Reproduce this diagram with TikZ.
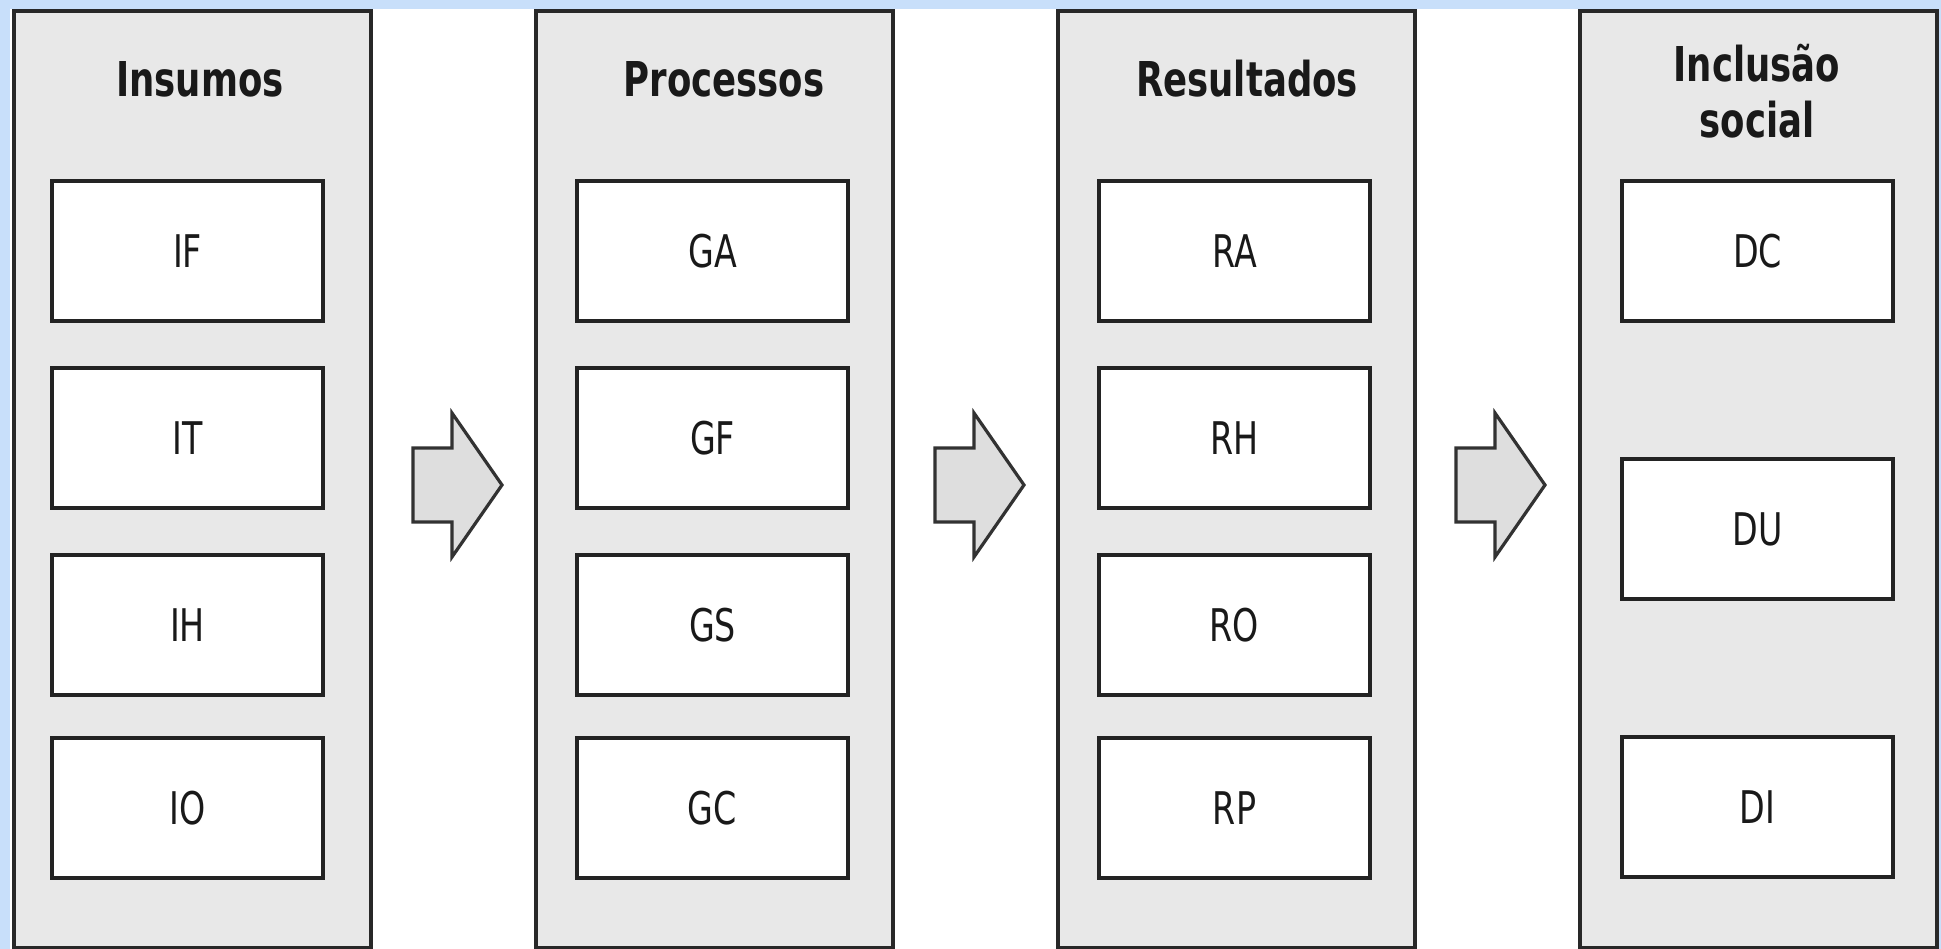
\documentclass[tikz,border=0pt]{standalone}
\usepackage{fontspec}
\newfontfamily\dvs[FakeStretch=0.74]{DejaVu Sans}
\definecolor{bgblue}{RGB}{200,223,250}
\definecolor{colfill}{RGB}{232,232,232}
\definecolor{colline}{RGB}{40,40,40}
\definecolor{boxline}{RGB}{35,35,35}
\definecolor{arrfill}{RGB}{222,222,222}
\definecolor{arrline}{RGB}{50,50,50}
\definecolor{txt}{RGB}{25,25,25}
\begin{document}
\begin{tikzpicture}[x=1pt,y=-1pt,
  col/.style={draw=colline,line width=3.8pt,fill=colfill,minimum width=357pt,minimum height=937pt,inner sep=0pt,anchor=north west},
  box/.style={draw=boxline,line width=3.8pt,fill=white,minimum width=271pt,minimum height=140pt,inner sep=0pt,text=txt,font=\dvs\fontsize{45}{50}\selectfont},
  ttl/.style={anchor=base,inner sep=0pt,text=txt,font=\dvs\bfseries\fontsize{48}{56}\selectfont},
  fwd/.pic={\draw[draw=arrline,fill=arrfill,line width=3.2pt,line join=miter]
     (0,-37) -- (39,-37) -- (39,-72) -- (89,0) -- (39,72) -- (39,37) -- (0,37) -- cycle;}]
\fill[bgblue] (0,0) rectangle (1941,949);
\fill[white] (10,9) rectangle (1937,949);
\useasboundingbox (0,0) rectangle (1941,949);
% columns
\node[col] (c1) at (12,9) {};
\node[col] (c2) at (534,9) {};
\node[col] (c3) at (1056,9) {};
\node[col] (c4) at (1578,9) {};
% titles
\node[ttl] (t1) at (200,97) {Insumos};
\node[ttl] (t2) at (724,97) {Processos};
\node[ttl] (t3) at (1247,97) {Resultados};
\node[ttl] (t4a) at (1757,82) {Inclusão};
\node[ttl] (t4b) at (1757,138) {social};
% column 1
\node[box] (IF) at (187.5,251) {IF};
\node[box] (IT) at (187.5,438) {IT};
\node[box] (IH) at (187.5,625) {IH};
\node[box] (IO) at (187.5,808) {IO};
% column 2
\node[box] (GA) at (712.5,251) {GA};
\node[box] (GF) at (712.5,438) {GF};
\node[box] (GS) at (712.5,625) {GS};
\node[box] (GC) at (712.5,808) {GC};
% column 3
\node[box] (RA) at (1234.5,251) {RA};
\node[box] (RH) at (1234.5,438) {RH};
\node[box] (RO) at (1234.5,625) {RO};
\node[box] (RP) at (1234.5,808) {RP};
% column 4
\node[box] (DC) at (1757.5,251) {DC};
\node[box] (DU) at (1757.5,529) {DU};
\node[box] (DI) at (1757.5,807) {DI};
% arrows
\pic at (413,485) {fwd};
\pic at (935,485) {fwd};
\pic at (1456,485) {fwd};
\end{tikzpicture}
\end{document}
